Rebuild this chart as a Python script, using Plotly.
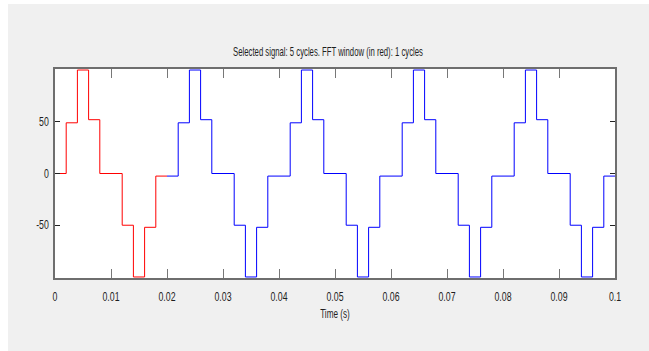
import plotly.graph_objects as go

# Staircase inverter output: step times (s) and the level held from each time on
red_t = [0.000, 0.002, 0.004, 0.006, 0.008, 0.012, 0.014, 0.016, 0.018, 0.020]
red_v = [0, 49, 100, 52, 0, -50, -100, -52, -2.5, -2.5]

blue_t = [0.020, 0.022, 0.024, 0.026, 0.028, 0.032, 0.034, 0.036, 0.038,
          0.042, 0.044, 0.046, 0.048, 0.052, 0.054, 0.056, 0.058,
          0.062, 0.064, 0.066, 0.068, 0.072, 0.074, 0.076, 0.078,
          0.082, 0.084, 0.086, 0.088, 0.092, 0.094, 0.096, 0.098, 0.100]
blue_v = [-2.5, 49, 100, 52, 0, -50, -100, -52, -2.5,
          49, 100, 52, 0, -50, -100, -52, -2.5,
          49, 100, 52, 0, -50, -100, -52, -2.5,
          49, 100, 52, 0, -50, -100, -52, -2.5, -2.5]

x_ticks = [0, 0.01, 0.02, 0.03, 0.04, 0.05, 0.06, 0.07, 0.08, 0.09, 0.1]
x_labels = ["0", "0.01", "0.02", "0.03", "0.04", "0.05", "0.06", "0.07", "0.08", "0.09", "0.1"]
y_ticks = [-50, 0, 50]
y_labels = ["-50", "0", "50"]

title_text = "Selected signal: 5 cycles. FFT window (in red): 1 cycles"
xlabel_text = "Time (s)"

FONT = "Liberation Sans, Arial, sans-serif"
TEXT_COLOR = "#1e1e1e"
W, H = 649, 351
L, R, T, B = 55, 34, 69, 73

fig = go.Figure()
fig.add_trace(go.Scatter(x=blue_t, y=blue_v, mode="lines", line_shape="hv",
                         line=dict(color="#0000ff", width=1), hoverinfo="skip",
                         showlegend=False))
fig.add_trace(go.Scatter(x=red_t, y=red_v, mode="lines", line_shape="hv",
                         line=dict(color="#ff0000", width=1), hoverinfo="skip",
                         showlegend=False))

pw = W - L - R
ph = H - T - B
# white page margin around the grey figure panel
fig.add_shape(type="rect", xref="paper", yref="paper", layer="below",
              x0=-L / pw, x1=(8 - L) / pw, y0=-B / ph, y1=1 + T / ph,
              fillcolor="white", line_width=0)
fig.add_shape(type="rect", xref="paper", yref="paper", layer="below",
              x0=-L / pw, x1=1 + R / pw, y0=1 + (T - 4) / ph, y1=1 + T / ph,
              fillcolor="white", line_width=0)

fig.update_layout(
    width=W, height=H,
    margin=dict(l=L, r=R, t=T, b=B, pad=0),
    paper_bgcolor="#f0f0f0",
    plot_bgcolor="white",
    font=dict(family=FONT, size=12, color=TEXT_COLOR),
    title=dict(text=title_text, x=328 / W, xanchor="center",
               y=1 - 52 / H, yanchor="middle",
               font=dict(family=FONT, size=12.5, color=TEXT_COLOR)),
    xaxis=dict(range=[0, 0.1], tickvals=x_ticks, ticktext=x_labels,
               ticks="inside", ticklen=9, tickcolor="#777777", tickwidth=1,
               showline=True, linecolor="#6e6e6e", linewidth=1.5, mirror="ticks",
               showgrid=False, zeroline=False, ticklabelstandoff=7,
               title=dict(text=xlabel_text, standoff=6,
                          font=dict(family=FONT, size=12, color=TEXT_COLOR))),
    yaxis=dict(range=[-101, 101], tickvals=y_ticks, ticktext=y_labels,
               ticks="inside", ticklen=5, tickcolor="#222222", tickwidth=1,
               showline=True, linecolor="#6e6e6e", linewidth=1.5, mirror="ticks",
               showgrid=False, zeroline=False, ticklabelstandoff=2),
)

# Narrow the lettering horizontally around each label's anchor point
post_js = """
var gd = document.getElementById('{plot_id}');
function squeeze(sel, s) {
  gd.querySelectorAll(sel).forEach(function (t) {
    var x = parseFloat(t.getAttribute('x')) || 0;
    var prev = t.getAttribute('transform') || '';
    t.setAttribute('transform', prev + ' translate(' + x + ',0) scale(' + s + ',1) translate(' + (-x) + ',0)');
  });
}
squeeze('.gtitle', 0.62);
squeeze('.xtick text', 0.73);
squeeze('.ytick text', 0.73);
squeeze('.xtitle', 0.68);
"""

fig.write_html("out.html", post_script=post_js)
